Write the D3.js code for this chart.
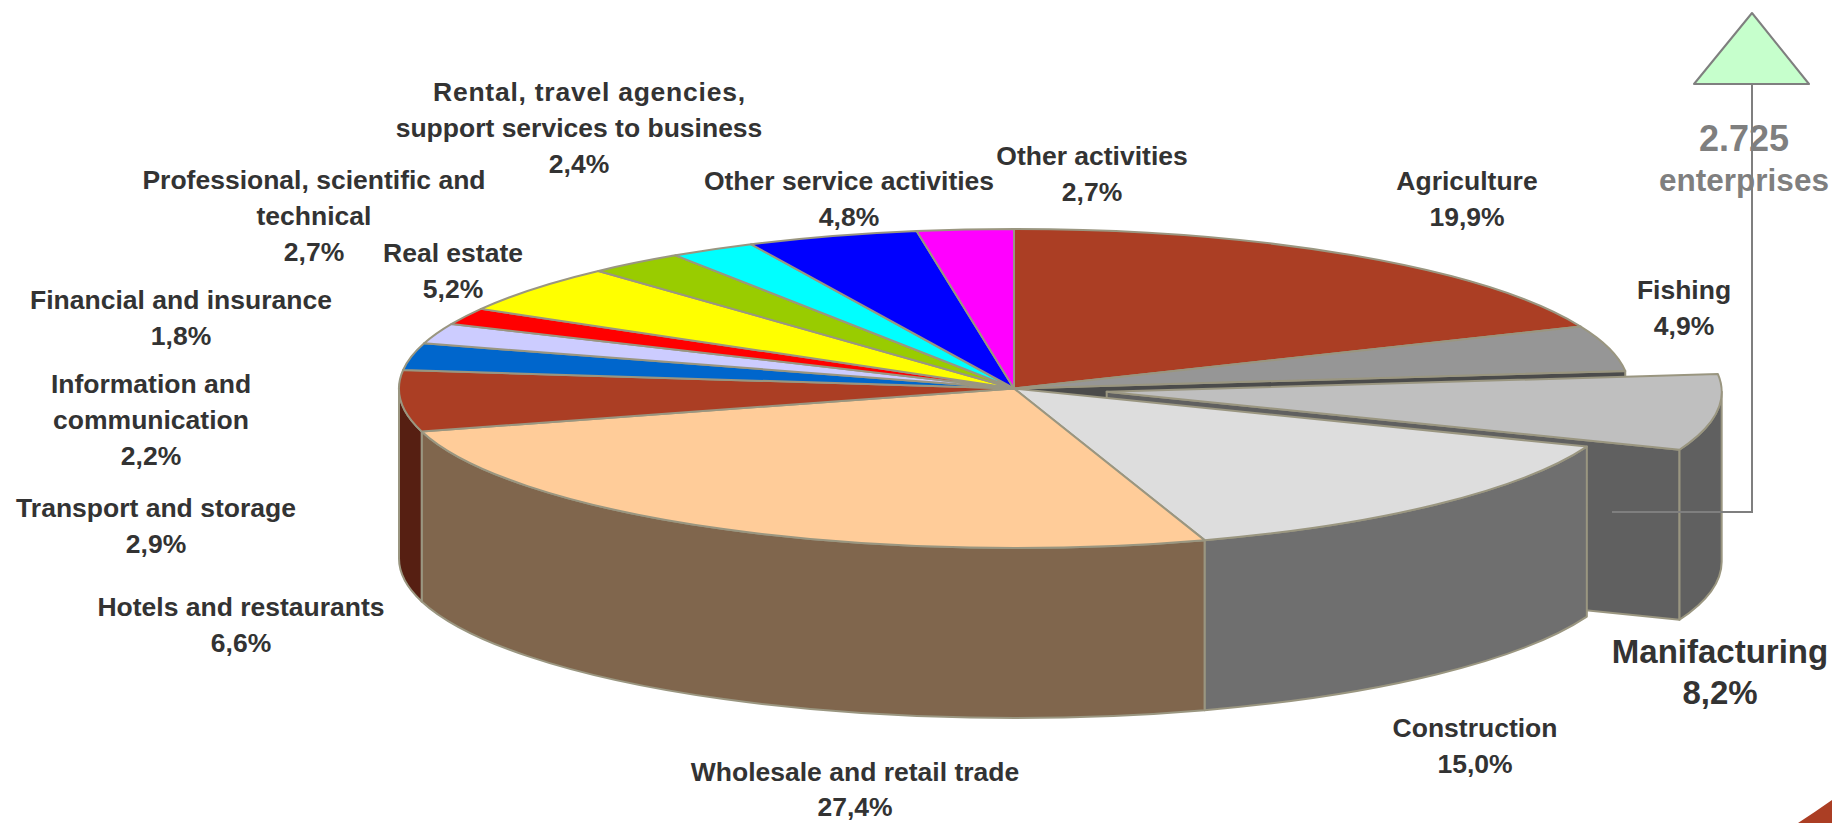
<!DOCTYPE html>
<html>
<head>
<meta charset="utf-8">
<script src="https://cdn.jsdelivr.net/npm/d3@7"></script>
<style>
html,body{margin:0;padding:0;background:#fff;overflow:hidden}
svg{display:block}
text{font-family:"Liberation Sans",Arial,sans-serif;font-weight:700}
</style>
</head>
<body>
<svg id="chart" width="1832" height="823"></svg>
<script>
// ---- data ----
const categories = ["Agriculture","Fishing","Manifacturing","Construction","Wholesale and retail trade","Hotels and restaurants","Transport and storage","Information and communication","Financial and insurance","Real estate","Professional, scientific and technical","Rental, travel agencies, support services to business","Other service activities","Other activities"];
const values = [19.9,4.9,8.2,15.0,27.4,6.6,2.9,2.2,1.8,5.2,2.7,2.4,4.8,2.7];
const sliceColors = ["#ab3e24","#969696","#bfbfbf","#dddddd","#ffcc99","#ab3e24","#0066cc","#ccccff","#ff0000","#ffff00","#99cc00","#00ffff","#0000ff","#ff00ff"];
const calloutLines = ["2.725","enterprises"];

// ---- layout (separate from the data) ----
const W = 1832, H = 823;
const cx = 1014, cy = 388.5, rx = 615, ry = 159.5, depth = 170;
const explodedIndex = 2, explodeFraction = 0.152;
const strokeColor = "#9a9680";
const labelLayout = [
  {x:1467, y:181, lines:["Agriculture"]},
  {x:1684, y:290, lines:["Fishing"]},
  {x:1720, y:651, lines:["Manifacturing"], big:true},
  {x:1475, y:728, lines:["Construction"]},
  {x:855,  y:772, lines:["Wholesale and retail trade"], lh:35},
  {x:241,  y:607, lines:["Hotels and restaurants"]},
  {x:156,  y:508, lines:["Transport and storage"]},
  {x:151,  y:384, lines:["Information and","communication"]},
  {x:181,  y:300, lines:["Financial and insurance"]},
  {x:453,  y:253, lines:["Real estate"]},
  {x:314,  y:180, lines:["Professional, scientific and","technical"]},
  {x:579,  y:92,  lines:["Rental, travel agencies,","support services to business"], firstDx:10, firstWidth:312},
  {x:849,  y:181, lines:["Other service activities"]},
  {x:1092, y:156, lines:["Other activities"]}
];

const svg = d3.select("#chart");
const pct = v => v.toFixed(1).replace(".", ",");
const wallColor = c => { const r = d3.rgb(c); return d3.rgb(r.r*0.5, r.g*0.5, r.b*0.5).formatHex(); };

const pie = d3.pie().sort(null).value(d => d.value).startAngle(0).endAngle(2*Math.PI);
const slices = pie(values.map((value,i) => ({value, i, color:sliceColors[i]})));
const arc = d3.arc().innerRadius(0).outerRadius(rx);

const offset = d => {
  if (d.data.i !== explodedIndex) return [0,0];
  const m = (d.startAngle + d.endAngle)/2;
  return [Math.sin(m)*rx*explodeFraction, -Math.cos(m)*ry*explodeFraction];
};
const pt = (t, o, dy=0) => [cx + o[0] + rx*Math.sin(t), cy + o[1] - ry*Math.cos(t) + dy];

function outerWall(a0, a1, o){
  const p0 = pt(a0,o), p1 = pt(a1,o);
  return `M${p0}A${rx},${ry} 0 0 1 ${p1}L${p1[0]},${p1[1]+depth}A${rx},${ry} 0 0 0 ${p0[0]},${p0[1]+depth}Z`;
}
function cutWall(a, o){
  const c = [cx+o[0], cy+o[1]], p = pt(a,o);
  return `M${c}L${p}L${p[0]},${p[1]+depth}L${c[0]},${c[1]+depth}Z`;
}

// walls, back to front
const wallPaths = [];
const fishing = slices[1], manuf = slices[explodedIndex];
wallPaths.push({d:cutWall(fishing.endAngle,[0,0]), color:wallColor(fishing.data.color)});
wallPaths.push({d:cutWall(manuf.endAngle,offset(manuf)), color:wallColor(manuf.data.color)});
wallPaths.push({d:outerWall(Math.PI/2, manuf.endAngle, offset(manuf)), color:wallColor(manuf.data.color)});
[3,4,5].forEach(i => {
  const s = slices[i];
  wallPaths.push({d:outerWall(Math.max(s.startAngle,Math.PI/2), Math.min(s.endAngle,1.5*Math.PI), [0,0]), color:wallColor(s.data.color)});
});
svg.append("g").selectAll("path").data(wallPaths).join("path")
  .attr("d", d => d.d).attr("fill", d => d.color)
  .attr("stroke", strokeColor).attr("stroke-width", 2).attr("stroke-linejoin","round");

// top faces: flat pie squashed into an ellipse
const order = slices.filter(s => s.data.i !== explodedIndex).concat([manuf]);
svg.append("g").selectAll("path").data(order).join("path")
  .attr("transform", d => { const o = offset(d); return `translate(${cx+o[0]},${cy+o[1]}) scale(1,${ry/rx})`; })
  .attr("d", arc)
  .attr("fill", d => d.data.color)
  .attr("stroke", strokeColor).attr("stroke-width", 2).attr("stroke-linejoin","round")
  .attr("vector-effect","non-scaling-stroke")
  .style("vector-effect","non-scaling-stroke");

// callout
const lineGen = d3.line();
svg.append("path").attr("d", lineGen([[1612,512],[1752,512],[1752,84]]))
  .attr("fill","none").attr("stroke","#7f7f7f").attr("stroke-width",2);

// labels
const lineH = 36;
const labels = svg.append("g").attr("fill","#333333").selectAll("g").data(labelLayout).join("g");
labels.each(function(l,i){
  const g = d3.select(this);
  const fs = l.big ? 33 : 26.5;
  const lh = l.big ? 41 : (l.lh || lineH);
  l.lines.forEach((t,k)=>{
    const txt = g.append("text").attr("x", l.x + (k===0 && l.firstDx ? l.firstDx : 0)).attr("y", l.y + k*lh)
      .attr("text-anchor","middle").attr("dominant-baseline","central")
      .attr("font-size",fs).text(t);
    if (k===0 && l.firstWidth) txt.attr("textLength", l.firstWidth);
  });
  g.append("text").attr("x", l.x).attr("y", l.y + l.lines.length*lh)
    .attr("text-anchor","middle").attr("dominant-baseline","central")
    .attr("font-size",fs).text(pct(values[i])+"%");
});

// callout text and triangle
svg.append("g").attr("fill","#7f7f7f").selectAll("text").data(calloutLines).join("text")
  .attr("x",1744).attr("y",(d,i)=> i===0 ? 138 : 180)
  .attr("text-anchor","middle").attr("dominant-baseline","central")
  .attr("font-size",(d,i)=> i===0 ? 36 : 31.5).text(d=>d);
svg.append("path").attr("d", lineGen([[1752,84],[1752,330]]))
  .attr("fill","none").attr("stroke","#7f7f7f").attr("stroke-width",2);
svg.append("path").attr("d", lineGen([[1752,13],[1809,84],[1694,84]])+"Z")
  .attr("fill","#c6ffcc").attr("stroke","#7f7f7f").attr("stroke-width",2).attr("stroke-linejoin","round");

// corner ornament
svg.append("path").attr("d","M1798,823Q1815,812 1832,800L1832,823Z").attr("fill","#ab3e24");
</script>
</body>
</html>
